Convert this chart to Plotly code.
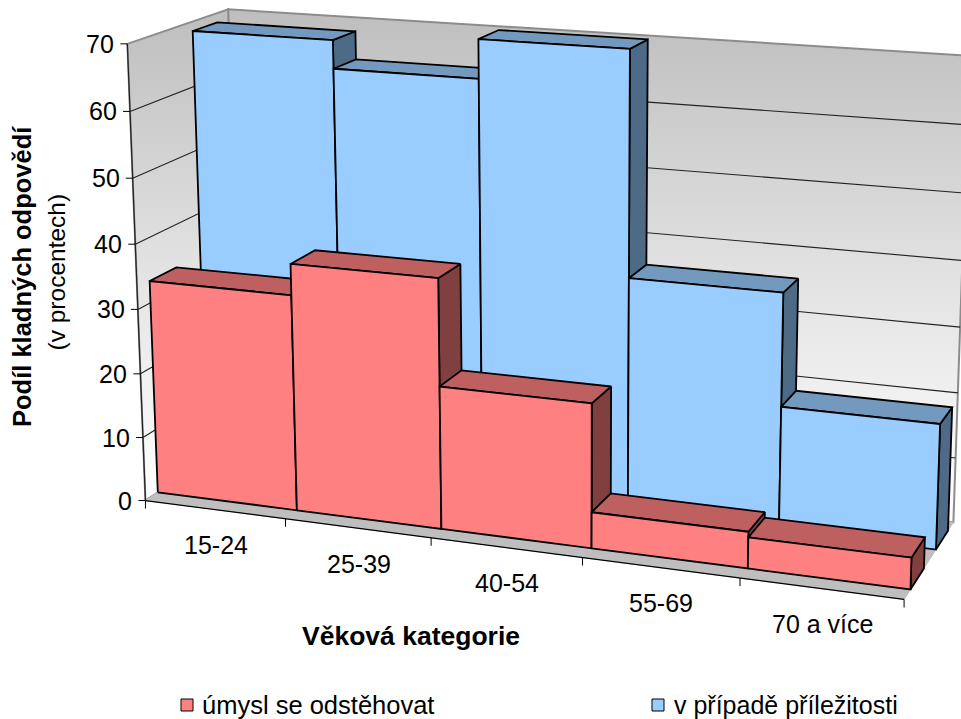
import numpy as np
import plotly.graph_objects as go

categories = ["15-24", "25-39", "40-54", "55-69", "70 a více"]
series_red_name = "úmysl se odstěhovat"
series_blue_name = "v případě příležitosti"
red_values = [33.36, 38.11, 21.85, 5.49, 4.66]
blue_values = [68.55, 64.22, 70.13, 36.09, 18.94]
value_ticks = [0, 10, 20, 30, 40, 50, 60, 70]
x_title = "Věková kategorie"
y_title = "Podíl kladných odpovědí"
y_subtitle = "(v procentech)"

# Perspective camera of the 3-D column chart: (category, depth, value) -> page pixel
CAM = np.array([[134.72844, 113.06877, -0.33188595, 145.45491],
                [8.5150785, -32.476083, -6.5491396, 500.53942],
                [-0.018799665, 0.071733356, -0.0005738822, 1.0]])
RED_DEPTH = (0.1212, 0.3841)
BLUE_DEPTH = (0.6288, 0.8827)
VMAX = 70
FONT = "Liberation Sans"


def proj(x, d, z):
    q = CAM @ np.array([x, d, z, 1.0])
    return q[0] / q[2], q[1] / q[2]


def poly(points, fill=None, lw=1.8, color="black", gradient=None, name=None):
    xy = [proj(*p) for p in points]
    xs = [a for a, _ in xy] + [xy[0][0]]
    ys = [b for _, b in xy] + [xy[0][1]]
    kw = dict(x=xs, y=ys, mode="lines", line=dict(color=color, width=lw),
              hoverinfo="skip", showlegend=False, name=name)
    if gradient:
        kw.update(fill="toself", fillgradient=gradient)
    elif fill:
        kw.update(fill="toself", fillcolor=fill)
    return go.Scatter(**kw)


def line(points, lw=1, color="black", offset=None):
    xy = [proj(*p) for p in points]
    xs = [a for a, _ in xy]
    ys = [b for _, b in xy]
    if offset:
        xs = [xs[0], xs[0] + offset[0]]
        ys = [ys[0], ys[0] + offset[1]]
    return go.Scatter(x=xs, y=ys, mode="lines", line=dict(color=color, width=lw),
                      hoverinfo="skip", showlegend=False)


fig = go.Figure()
wall_grad = dict(type="vertical", colorscale=[[0, "#FFFFFF"], [0.45, "#E4E4E4"], [1, "#BEBEBE"]])
n = len(categories)

# walls and floor
fig.add_trace(poly([(0, 1, 0), (n, 1, 0), (n, 1, VMAX), (0, 1, VMAX)], gradient=wall_grad, lw=2, color="#8C8C8C"))
fig.add_trace(poly([(0, 0, 0), (0, 1, 0), (0, 1, VMAX), (0, 0, VMAX)], gradient=wall_grad, lw=2, color="#8C8C8C"))
fig.add_trace(poly([(0, 0, 0), (n, 0, 0), (n, 1, 0), (0, 1, 0)], fill="#BEBEBE", lw=1, color="#BEBEBE"))

# gridlines
for v in value_ticks[1:-1]:
    fig.add_trace(line([(0, 0, v), (0, 1, v), (n, 1, v)], lw=1.1, color="#222222"))

# axis lines and ticks
fig.add_trace(line([(0, 0, 0), (n, 0, 0)], lw=1.2))
fig.add_trace(line([(0, 0, VMAX), (0, 0, 0)], lw=1.2, color="#222222"))
for i in range(n + 1):
    fig.add_trace(line([(i, 0, 0), (i, 0, 0)], lw=1, offset=(0, 8)))
for v in value_ticks:
    fig.add_trace(line([(0, 0, v), (0, 0, v)], lw=1, offset=(-7, 0)))


def bars(values, depth, front, top, side, name):
    d0, d1 = depth
    for i, v in enumerate(values):
        fig.add_trace(poly([(i + 1, d0, 0), (i + 1, d1, 0), (i + 1, d1, v), (i + 1, d0, v)], fill=side))
        fig.add_trace(poly([(i, d0, v), (i + 1, d0, v), (i + 1, d1, v), (i, d1, v)], fill=top))
        fig.add_trace(poly([(i, d0, 0), (i + 1, d0, 0), (i + 1, d0, v), (i, d0, v)], fill=front, name=name))


bars(blue_values, BLUE_DEPTH, "#99CCFF", "#7399BF", "#4D6A87", series_blue_name)
bars(red_values, RED_DEPTH, "#FF8080", "#BF6060", "#804040", series_red_name)

notes = []


def note(x, y, text, size=25, anchor="center", angle=0, bold=False):
    notes.append(dict(x=x, y=y, text=f"<b>{text}</b>" if bold else text, showarrow=False,
                      xref="x", yref="y", xanchor=anchor, yanchor="middle", textangle=angle,
                      font=dict(family=FONT, size=size, color="black")))


for v in value_ticks:
    px, py = proj(0, 0, v)
    note(px - 11, py, str(v), anchor="right")
for i, c in enumerate(categories):
    px, py = proj(i + 0.5, 0, 0)
    note(px + 1, py + 35.5, c)

note(411, 636, x_title, size=26.5, bold=True)
note(22, 277, y_title, size=25.5, angle=-90, bold=True)
note(56, 272.5, y_subtitle, size=24.5, angle=-90)

# legend
fig.add_trace(go.Scatter(x=[187], y=[705], mode="markers", hoverinfo="skip", showlegend=False,
                         marker=dict(symbol="square", size=12, color="#FF8080", line=dict(color="black", width=1))))
fig.add_trace(go.Scatter(x=[658], y=[705], mode="markers", hoverinfo="skip", showlegend=False,
                         marker=dict(symbol="square", size=12, color="#99CCFF", line=dict(color="black", width=1))))
note(200, 705, series_red_name, size=25.5, anchor="left")
note(672, 705, series_blue_name, size=25, anchor="left")

fig.update_layout(width=961, height=719, margin=dict(l=0, r=0, t=0, b=0), autosize=False,
                  paper_bgcolor="white", plot_bgcolor="white", showlegend=False, annotations=notes,
                  xaxis=dict(range=[0, 961], visible=False, fixedrange=True),
                  yaxis=dict(range=[719, 0], visible=False, fixedrange=True))
fig.write_html("out.html", config=dict(displayModeBar=False),
               post_script="document.body.style.margin='0';document.documentElement.style.overflow='hidden';")
